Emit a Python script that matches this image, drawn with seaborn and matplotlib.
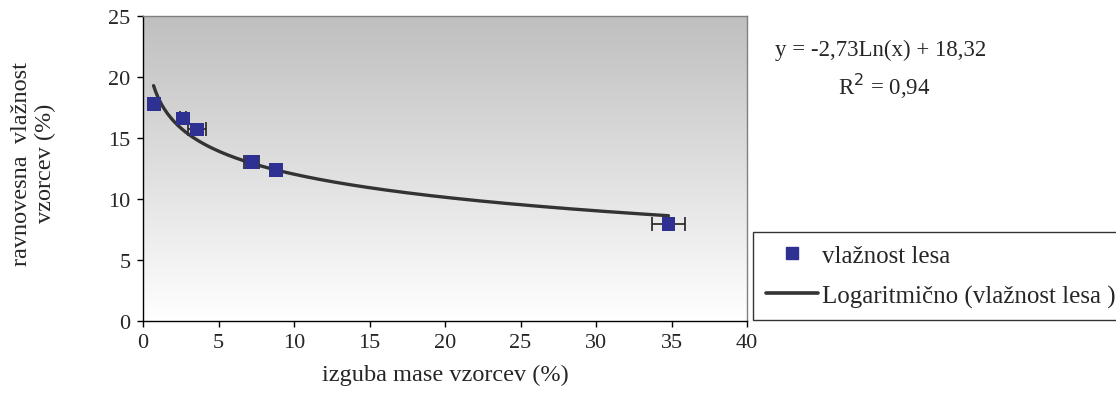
import numpy as np
import pandas as pd
import matplotlib
matplotlib.use("Agg")
import matplotlib.pyplot as plt
import seaborn as sns
from matplotlib.lines import Line2D

# Data
mass_loss = [0.7, 2.65, 3.6, 7.2, 8.8, 34.8]          # izguba mase vzorcev (%)
moisture = [17.8, 16.6, 15.7, 13.0, 12.4, 7.95]       # ravnovesna vlažnost vzorcev (%)
x_err = [0.3, 0.2, 0.6, 0.5, 0.4, 1.1]
fit_a = -2.73
fit_b = 18.32
x_ticks = [0, 5, 10, 15, 20, 25, 30, 35, 40]
y_ticks = [0, 5, 10, 15, 20, 25]

sns.set_theme(style="white")
plt.rcParams['font.family'] = ['Liberation Serif', 'DejaVu Serif']
FS_TICK = 16
FS_LAB = 17.5
FS_EQ = 16.5
FS_LEG = 18

W, H = 1116, 410
fig = plt.figure(figsize=(W / 100, H / 100), dpi=100)
ax = fig.add_axes([143 / W, 1 - 322 / H, (747 - 143) / W, (322 - 17) / H])

# gradient background
grad = np.linspace(0, 1, 256).reshape(-1, 1)
cmap = matplotlib.colors.LinearSegmentedColormap.from_list('g', ['#ffffff', '#bfbfbf'])
ax.imshow(grad, extent=[0, 40, 0, 25], aspect='auto', cmap=cmap, origin='lower', zorder=0)

df = pd.DataFrame({"x": mass_loss, "y": moisture})
xs = np.linspace(min(mass_loss), max(mass_loss), 300)
fit = pd.DataFrame({"x": xs, "y": fit_a * np.log(xs) + fit_b})

ax.errorbar(mass_loss, moisture, xerr=x_err, fmt='none', ecolor='#222222', elinewidth=1.2,
            capsize=5, capthick=1.2, zorder=2)
sns.lineplot(data=fit, x="x", y="y", ax=ax, color='#333333', linewidth=2.4, zorder=3)
sns.scatterplot(data=df, x="x", y="y", ax=ax, marker='s', s=100, color='#2E3192',
                edgecolor='none', zorder=4)

ax.set_xlim(0, 40)
ax.set_ylim(0, 25)
ax.set_xticks(x_ticks)
ax.set_yticks(y_ticks)
ax.tick_params(axis='both', labelsize=FS_TICK, direction='out', length=4, width=1, color='black',
               bottom=True, left=True, pad=5)
for s in ax.spines.values():
    s.set_color('#808080')
    s.set_linewidth(1)
ax.spines['left'].set_color('black')
ax.spines['bottom'].set_color('black')

ax.set_xlabel("izguba mase vzorcev (%)", fontsize=FS_LAB, labelpad=8)
ax.set_ylabel("")
fig.text(22 / W, 1 - 164 / H, "ravnovesna  vlažnost", fontsize=FS_LAB, rotation=90, ha='center', va='center')
fig.text(45 / W, 1 - 163 / H, "vzorcev (%)", fontsize=FS_LAB, rotation=90, ha='center', va='center')

fig.text(775 / W, 1 - 50 / H, "y = -2,73Ln(x) + 18,32", fontsize=FS_EQ, ha='left', va='center')
fig.text(838 / W, 1 - 86 / H, "R$^2$ = 0,94", fontsize=FS_EQ, ha='left', va='center')

handles = [Line2D([], [], marker='s', linestyle='none', color='#2E3192', markersize=8),
           Line2D([], [], color='#333333', linewidth=2.6)]
leg = fig.legend(handles, ["vlažnost lesa", "Logaritmično (vlažnost lesa )"], loc='upper left',
                 bbox_to_anchor=(753 / W, 1 - 233 / H), borderaxespad=0, fontsize=FS_LEG, frameon=True,
                 fancybox=False, edgecolor='black', handlelength=2.1, handletextpad=0.15,
                 borderpad=0.5, labelspacing=0.7)
leg.get_frame().set_linewidth(1)

fig.savefig("out.png", dpi=100)
